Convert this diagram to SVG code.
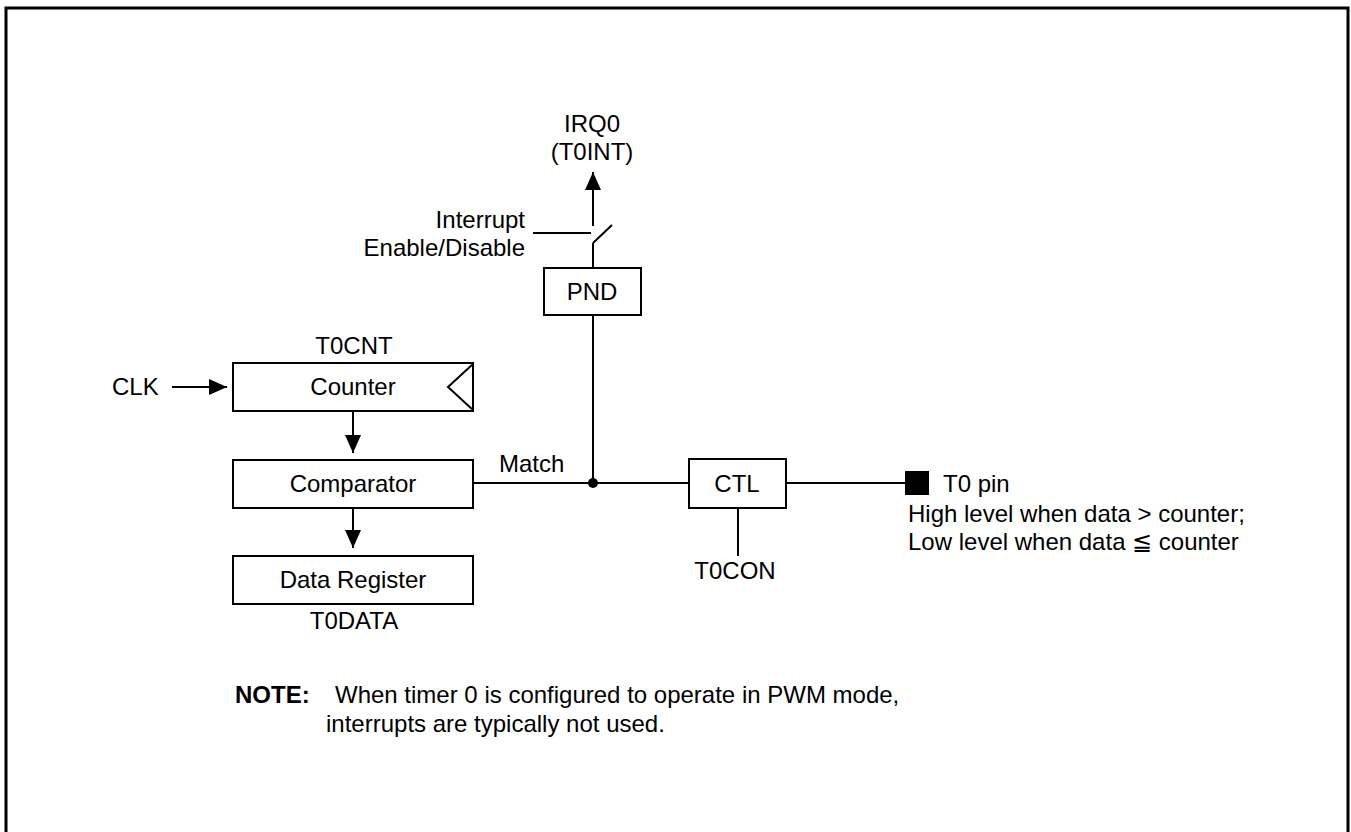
<svg xmlns="http://www.w3.org/2000/svg" width="1351" height="832" viewBox="0 0 1351 832">
<defs>
<style>
text{font-family:"Liberation Sans",Arial,sans-serif;font-size:24px;fill:#000}
.box{fill:#fff;stroke:#000;stroke-width:2}
.ln{fill:none;stroke:#000;stroke-width:2}
.m{text-anchor:middle}
.e{text-anchor:end}
</style>
<marker id="ah" markerUnits="userSpaceOnUse" markerWidth="18" markerHeight="16" refX="18" refY="8" orient="auto">
<path d="M0,0 L18,8 L0,16 z" fill="#000"/>
</marker>
</defs>
<rect x="0" y="0" width="1351" height="832" fill="#fff"/>
<rect x="6" y="8" width="1342" height="900" fill="none" stroke="#000" stroke-width="3"/>

<g id="connectors">
<line class="ln" x1="172" y1="387" x2="227" y2="387" marker-end="url(#ah)"/>
<line class="ln" x1="353" y1="411" x2="353" y2="453" marker-end="url(#ah)"/>
<line class="ln" x1="353" y1="508" x2="353" y2="548" marker-end="url(#ah)"/>
<line class="ln" x1="473" y1="483" x2="689" y2="483"/>
<line class="ln" x1="593" y1="315" x2="593" y2="483"/>
<circle cx="593" cy="483" r="5" fill="#000"/>
<line class="ln" x1="786" y1="483" x2="905" y2="483"/>
<line class="ln" x1="738" y1="508" x2="738" y2="556"/>
<line class="ln" x1="593" y1="268" x2="593" y2="243"/>
<line class="ln" x1="593" y1="243" x2="612" y2="225"/>
<line class="ln" x1="593" y1="226" x2="593" y2="172" marker-end="url(#ah)"/>
<line class="ln" x1="533" y1="233" x2="591" y2="233"/>
</g>

<g id="irq">
<text class="m" x="592" y="132">IRQ0</text>
<text class="m" x="592" y="160">(T0INT)</text>
</g>
<g id="interrupt-enable">
<text class="e" x="525" y="228">Interrupt</text>
<text class="e" x="525" y="256">Enable/Disable</text>
</g>
<g id="pnd">
<rect class="box" x="544" y="268" width="97" height="47"/>
<text class="m" x="592" y="300">PND</text>
</g>
<g id="clk">
<text x="112" y="395">CLK</text>
</g>
<g id="counter">
<text class="m" x="354" y="354">T0CNT</text>
<rect class="box" x="233" y="363" width="240" height="48"/>
<polyline class="ln" points="473,364 448,387 473,410"/>
<text class="m" x="353" y="395">Counter</text>
</g>
<g id="comparator">
<rect class="box" x="233" y="460" width="240" height="48"/>
<text class="m" x="353" y="492">Comparator</text>
</g>
<g id="match">
<text x="499" y="472">Match</text>
</g>
<g id="data-register">
<rect class="box" x="233" y="556" width="240" height="48"/>
<text class="m" x="353" y="588">Data Register</text>
<text class="m" x="354" y="629">T0DATA</text>
</g>
<g id="ctl">
<rect class="box" x="689" y="459" width="97" height="49"/>
<text class="m" x="737" y="492">CTL</text>
</g>
<g id="t0con">
<text class="m" x="735" y="579">T0CON</text>
</g>
<g id="t0pin">
<rect x="905" y="471" width="24" height="24" fill="#000"/>
<text x="943" y="492">T0 pin</text>
<text x="908" y="522">High level when data &gt; counter;</text>
<text x="908" y="550">Low level when data ≦ counter</text>
</g>
<g id="note">
<text x="235" y="703" font-weight="bold">NOTE:</text>
<text x="335" y="703">When timer 0 is configured to operate in PWM mode,</text>
<text x="326" y="732">interrupts are typically not used.</text>
</g>
</svg>
